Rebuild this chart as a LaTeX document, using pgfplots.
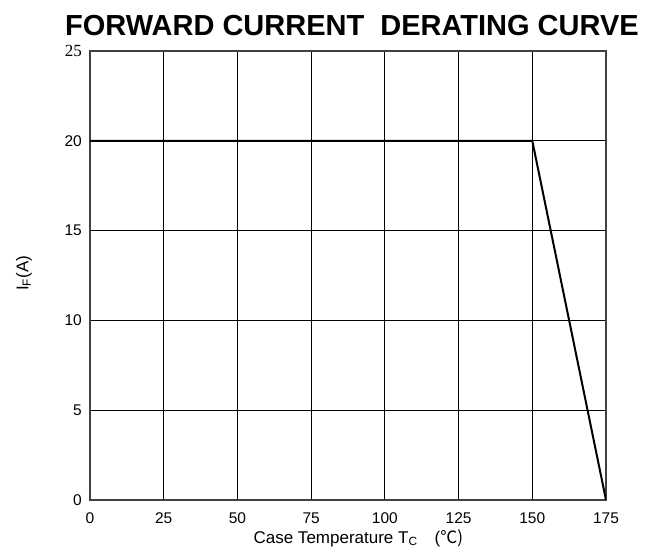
\documentclass[border=0pt]{standalone}
\usepackage{fontspec}
\setmainfont{Liberation Sans}
\newfontfamily\serif{Liberation Serif}
\newfontfamily\cjk{Noto Sans CJK SC}
\usepackage{pgfplots}
\pgfplotsset{compat=1.18}
\newcommand{\topl}{{\serif\fontsize{17}{19}\selectfont 25}}
\begin{document}
\begin{tikzpicture}[x=1pt,y=1pt]
\useasboundingbox (0,0) rectangle (659,553);
\node[font=\fontsize{29}{34}\selectfont\bfseries] at (352,527) {FORWARD CURRENT\ \ DERATING CURVE};
\begin{axis}[
  at={(90pt,53pt)}, anchor=south west,
  scale only axis, width=516pt, height=449pt,
  xmin=0, xmax=175, ymin=0, ymax=25,
  xtick={0,25,...,175}, ytick={0,5,...,25},
  xticklabels={0,25,50,75,100,125,150,175},
  yticklabels={0,5,10,15,20,\topl},
  tick label style={font=\fontsize{15.5}{18}\selectfont, inner sep=0pt},
  xticklabel style={anchor=north, yshift=-12pt, text height=11pt, text depth=0pt},
  yticklabel style={anchor=east, xshift=-8pt},
  major tick length=0pt,
  grid=major,
  major grid style={black, line width=0.9pt},
  axis line style={black!75, line width=1.3pt},
  xlabel={Case Temperature T\textsubscript{C}\quad(\cjk ℃)},
  ylabel={I\textsubscript{F}(A)},
  label style={font=\fontsize{17}{20}\selectfont},
  xlabel style={at={(axis description cs:0.52,-0.085)}, anchor=center},
  ylabel style={at={(axis description cs:-0.128,0.505)}, anchor=center},
]
\addplot[black, line width=2pt] coordinates {(0,20) (150,20) (175,0)};
\end{axis}
\end{tikzpicture}
\end{document}
